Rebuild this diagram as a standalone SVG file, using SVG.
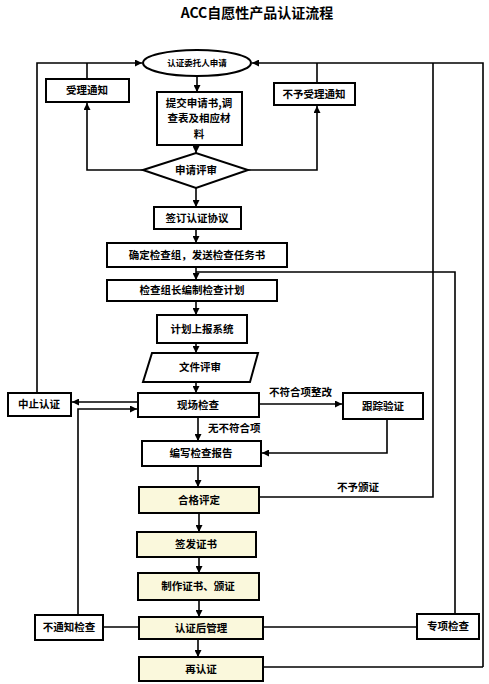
<svg xmlns="http://www.w3.org/2000/svg" width="489" height="684" viewBox="0 0 489 684">
<defs>
<marker id="ah" viewBox="0 0 10 10" refX="10" refY="5" markerWidth="7" markerHeight="7" markerUnits="userSpaceOnUse" orient="auto">
<path d="M0,0 L10,5 L0,10 z" fill="#000"/>
</marker>
</defs>
<style>
.b{fill:#fff;stroke:#000;stroke-width:2}
.y{fill:#FAF8DC;stroke:#000;stroke-width:2}
.c{fill:none;stroke:#000;stroke-width:1.6}
.a{fill:none;stroke:#000;stroke-width:1.6;marker-end:url(#ah)}
text{font-family:"Noto Sans CJK SC","Liberation Sans",sans-serif;font-weight:bold;font-size:10.5px;text-anchor:middle;fill:#000}
.s{font-size:8.5px}
.t{font-size:14px}
.l{text-anchor:start}
</style>
<rect width="489" height="684" fill="#fff"/>
<text class="t" x="257" y="18">ACC自愿性产品认证流程</text>
<g id="connectors">
<polyline class="a" points="37,393 37,63 142,63"/>
<polyline class="c" points="87,79 87,63"/>
<polyline class="a" points="143,170 87,170 87,103"/>
<polyline class="a" points="248,170 317,170 317,106"/>
<polyline class="c" points="317,83 317,63"/>
<polyline class="a" points="483,667 483,63 252,63"/>
<polyline class="c" points="259,497 433,497 433,63"/>
<line class="a" x1="197" y1="76" x2="197" y2="92"/>
<line class="a" x1="196" y1="145" x2="196" y2="153"/>
<line class="a" x1="196" y1="188" x2="196" y2="207"/>
<line class="a" x1="196" y1="229" x2="196" y2="243"/>
<line class="a" x1="196" y1="267" x2="196" y2="280"/>
<polyline class="c" points="455,614 455,272 196,272"/>
<line class="a" x1="196" y1="301" x2="196" y2="315"/>
<line class="a" x1="196" y1="343" x2="196" y2="353"/>
<line class="a" x1="196" y1="382" x2="196" y2="393"/>
<line class="a" x1="138" y1="402" x2="72" y2="402"/>
<polyline class="a" points="78,615 78,409 137,409"/>
<line class="a" x1="259" y1="404" x2="342" y2="404"/>
<polyline class="a" points="387,419 387,453 262,453"/>
<line class="a" x1="198" y1="417" x2="198" y2="441"/>
<line class="a" x1="198" y1="466" x2="198" y2="487"/>
<line class="a" x1="199" y1="513" x2="199" y2="532"/>
<line class="a" x1="199" y1="557" x2="199" y2="573"/>
<line class="a" x1="199" y1="600" x2="199" y2="617"/>
<line class="a" x1="198" y1="639" x2="198" y2="657"/>
<line class="c" x1="103" y1="627" x2="139" y2="627"/>
<line class="c" x1="263" y1="627" x2="417" y2="627"/>
<line class="c" x1="263" y1="667" x2="483" y2="667"/>
<text class="l" x="269" y="396">不符合项整改</text>
<text class="l" x="208" y="432">无不符合项</text>
<text class="l" x="337" y="491">不予颁证</text>
</g>
<g id="apply"><ellipse class="b" cx="197" cy="63" rx="54" ry="13"/><text class="s" x="197" y="66">认证委托人申请</text></g>
<g id="accept"><rect class="b" x="46" y="79" width="83" height="23"/><text x="87" y="94">受理通知</text></g>
<g id="reject"><rect class="b" x="274" y="83" width="81" height="22"/><text x="314" y="98">不予受理通知</text></g>
<g id="submit"><rect class="b" x="157" y="92" width="85" height="53"/><text x="199" y="107">提交申请书,调</text><text x="199" y="122">查表及相应材</text><text x="199" y="138">料</text></g>
<g id="review"><polygon class="b" points="143,170 196,153 248,170 196,188"/><text x="196" y="174">申请评审</text></g>
<g id="sign"><rect class="b" x="154" y="207" width="87" height="22"/><text x="197" y="222">签订认证协议</text></g>
<g id="team"><rect class="b" x="107" y="243" width="180" height="24"/><text x="197" y="259">确定检查组，发送检查任务书</text></g>
<g id="plan"><rect class="b" x="107" y="280" width="170" height="21"/><text x="192" y="294">检查组长编制检查计划</text></g>
<g id="report-sys"><rect class="b" x="157" y="315" width="90" height="28"/><text x="202" y="333">计划上报系统</text></g>
<g id="doc"><polygon class="b" points="152,353 258,353 250,382 143,382"/><text x="200" y="371">文件评审</text></g>
<g id="onsite"><rect class="b" x="138" y="393" width="121" height="24"/><text x="198" y="409">现场检查</text></g>
<g id="stop"><rect class="b" x="8" y="393" width="63" height="23"/><text x="39" y="408">中止认证</text></g>
<g id="track"><rect class="b" x="343" y="393" width="80" height="26"/><text x="383" y="410">跟踪验证</text></g>
<g id="write"><rect class="b" x="142" y="441" width="119" height="25"/><text x="201" y="457">编写检查报告</text></g>
<g id="evaluate"><rect class="y" x="139" y="487" width="120" height="26"/><text x="199" y="504">合格评定</text></g>
<g id="issue"><rect class="y" x="137" y="532" width="119" height="25"/><text x="196" y="548">签发证书</text></g>
<g id="make"><rect class="y" x="138" y="573" width="121" height="27"/><text x="198" y="590">制作证书、颁证</text></g>
<g id="post"><rect class="y" x="139" y="617" width="124" height="22"/><text x="201" y="632">认证后管理</text></g>
<g id="unannounced"><rect class="b" x="35" y="615" width="68" height="25"/><text x="69" y="631">不通知检查</text></g>
<g id="special"><rect class="b" x="417" y="614" width="62" height="25"/><text x="448" y="630">专项检查</text></g>
<g id="recert"><rect class="y" x="139" y="657" width="124" height="24"/><text x="201" y="673">再认证</text></g>
</svg>
